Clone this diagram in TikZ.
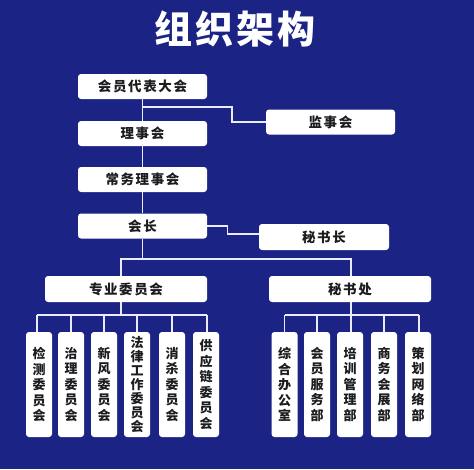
\documentclass[tikz,border=0pt]{standalone}
\usepackage{fontspec}
\usetikzlibrary{positioning,calc}
\newfontfamily\cjk{Noto Sans CJK SC}
\newfontfamily\cjkwide[LetterSpace=12]{Noto Sans CJK SC}
\newfontfamily\cjktitle[LetterSpace=8]{Noto Sans CJK SC}
\definecolor{bgblue}{RGB}{27,35,132}
\definecolor{ink}{RGB}{28,28,32}
\tikzset{
  titletext/.style={text=white, font=\cjktitle\bfseries\fontsize{38}{40}\selectfont, inner sep=0pt},
  mainbox/.style={fill=white, rounded corners=3pt, minimum width=129pt, minimum height=25pt, inner sep=0pt, text=ink, font=\cjkwide\bfseries\fontsize{13.5}{15}\selectfont},
  widebox/.style={mainbox, minimum width=162pt, minimum height=26pt},
  tallbox/.style={fill=white, rounded corners=3pt, minimum width=26pt, minimum height=105pt, inner sep=0pt, align=center, text=ink, font=\cjk\bfseries\fontsize{13}{15.5}\selectfont},
  link/.style={draw=white!92!blue, line width=1.1pt}
}
\begin{document}
\begin{tikzpicture}[x=1pt,y=-1pt]
  \fill[bgblue] (0,0) rectangle (474,469);
  \node[titletext] (title) at (235,29) {组织架构};
  \node[mainbox] (dahui) at (142.5,86.5) {会员代表大会};
  \node[mainbox] (jianshi) at (330.5,122) {监事会};
  \node[mainbox] (lishi) at (142.5,133.5) {理事会};
  \node[mainbox] (changwu) at (142.5,179.5) {常务理事会};
  \node[mainbox] (huizhang) at (142.5,226) {会长};
  \node[mainbox, minimum width=130pt, minimum height=26pt] (mishuzhang) at (324,237) {秘书长};
  \node[widebox] (zhuanwei) at (126,289) {专业委员会};
  \node[widebox] (mishuchu) at (350,289) {秘书处};
  \node[tallbox] (jiance) at (39,384.5) {检\\测\\委\\员\\会};
  \node[tallbox] (zhili) at (71,384.5) {治\\理\\委\\员\\会};
  \node[tallbox] (xinfeng) at (104,384.5) {新\\风\\委\\员\\会};
  \node[tallbox, font=\cjk\bfseries\fontsize{13}{14}\selectfont] (falv) at (137,384.5) {法\\律\\工\\作\\委\\员\\会};
  \node[tallbox] (xiaosha) at (172,384.5) {消\\杀\\委\\员\\会};
  \node[tallbox] (gongying) at (206,384.5) {供\\应\\链\\委\\员\\会};
  \node[tallbox] (zonghe) at (284.5,384.5) {综\\合\\办\\公\\室};
  \node[tallbox] (fuwu) at (317,384.5) {会\\员\\服\\务\\部};
  \node[tallbox] (peixun) at (350,384.5) {培\\训\\管\\理\\部};
  \node[tallbox] (shangwu) at (384,384.5) {商\\务\\会\\展\\部};
  \node[tallbox] (cehua) at (418,384.5) {策\\划\\网\\络\\部};
  \coordinate (j1) at (142.5,107);
  \draw[link] (dahui)--(lishi); \draw[link] (lishi)--(changwu); \draw[link] (changwu)--(huizhang);
  \draw[link] (j1) -- ++(89.5,0) |- (jianshi.west);
  \draw[link] (huizhang.east) -- ++(20,0) |- ([yshift=3pt]mishuzhang.west);
  \draw[link] (huizhang.south) -- (huizhang.south |- 0,259);
  \draw[link] ([xshift=-5pt]zhuanwei.north) |- ([xshift=1pt]mishuchu.north |- 0,259) -- ([xshift=1pt]mishuchu.north);
  \draw[link] ([xshift=-5pt]zhuanwei.south) -- ([xshift=-5pt]zhuanwei.south |- 0,315);
  \draw[link] ([xshift=-2pt]jiance.north |- 0,315) -- ([xshift=1pt]gongying.north |- 0,315);
  \draw[link] ([xshift=-2pt]jiance.north) -- ++(0,-17); \draw[link] (zhili.north) -- ++(0,-17);
  \draw[link] (xinfeng.north) -- ++(0,-17); \draw[link] (falv.north) -- ++(0,-17);
  \draw[link] (xiaosha.north) -- ++(0,-17); \draw[link] ([xshift=1pt]gongying.north) -- ++(0,-17);
  \draw[link] ([xshift=1pt]mishuchu.south) -- ([xshift=1pt]mishuchu.south |- 0,315);
  \draw[link] (zonghe.north |- 0,315) -- ([xshift=1pt]cehua.north |- 0,315);
  \draw[link] (zonghe.north) -- ++(0,-17); \draw[link] (fuwu.north) -- ++(0,-17);
  \draw[link] ([xshift=1pt]peixun.north) -- ++(0,-17); \draw[link] (shangwu.north) -- ++(0,-17);
  \draw[link] ([xshift=1pt]cehua.north) -- ++(0,-17);
\end{tikzpicture}
\end{document}
